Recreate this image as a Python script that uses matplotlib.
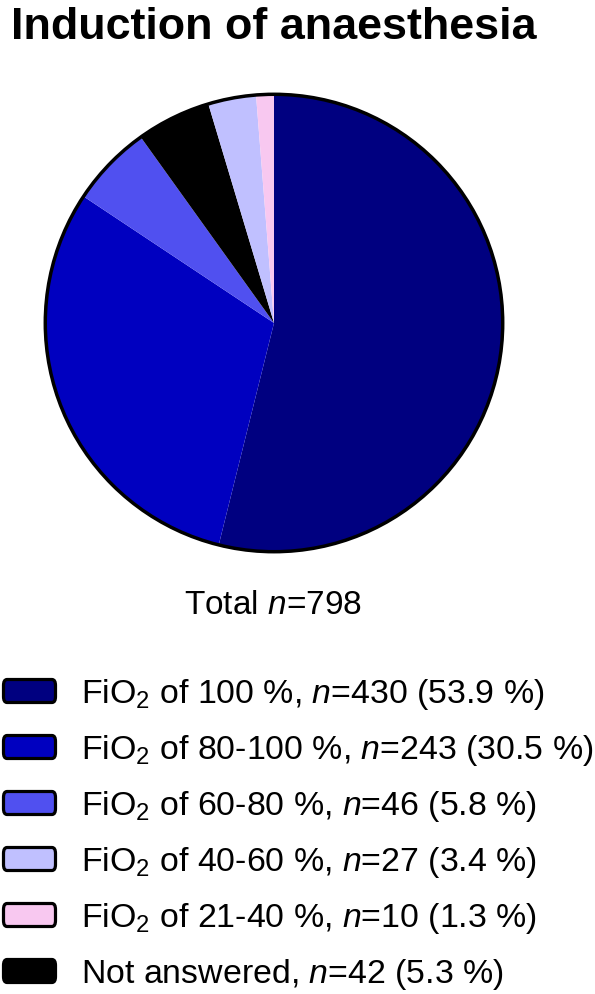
import matplotlib
matplotlib.use("Agg")
import matplotlib.pyplot as plt
from matplotlib.patches import FancyBboxPatch, Circle

plt.rcParams['font.family'] = ['Liberation Sans', 'DejaVu Sans']
plt.rcParams['mathtext.fontset'] = 'custom'
plt.rcParams['mathtext.rm'] = 'Liberation Sans'
plt.rcParams['mathtext.it'] = 'Liberation Sans:italic'

title = "Induction of anaesthesia"
categories = ["100", "80-100", "60-80", "40-60", "21-40", "Not answered"]
counts = [430, 243, 46, 27, 10, 42]
colors = ["#000080", "#0000C0", "#5050F0", "#C0C0FF", "#F8C8F0", "#000000"]
pie_order = [0, 1, 2, 5, 3, 4]  # clockwise from top
total = sum(counts)

W, H = 595, 994
fig = plt.figure(figsize=(W / 100, H / 100), dpi=100)

# title
fig.text(11 / W, 1 - 39 / H, title, fontsize=32.3, fontweight='bold', ha='left', va='baseline')

# pie
cx, cy, r = 274, 323, 231
ax = fig.add_axes([(cx - r) / W, 1 - (cy + r) / H, 2 * r / W, 2 * r / H])
ax.pie([counts[i] for i in pie_order], colors=[colors[i] for i in pie_order],
       startangle=90, counterclock=False, radius=1,
       wedgeprops=dict(linewidth=0))
ax.add_patch(Circle((0, 0), 1, fill=False, edgecolor='black', linewidth=2.5))
ax.set_xlim(-1.01, 1.01)
ax.set_ylim(-1.01, 1.01)
ax.set_aspect('equal')
ax.axis('off')

fig.text(273 / W, 1 - 605 / H, r"Total $\it{n}$=" + str(total), fontsize=24,
         ha='center', va='center')

# legend
row_y = [691, 747, 803, 859, 915, 971]
for k, (cat, n, col) in enumerate(zip(categories, counts, colors)):
    y = row_y[k]
    box = FancyBboxPatch((3.5 / W, 1 - (y + 11.5) / H), 52 / W, 23 / H,
                         boxstyle="round,pad=0,rounding_size=0.006",
                         transform=fig.transFigure, facecolor=col,
                         edgecolor='black', linewidth=2.3)
    fig.patches.append(box)
    pct = 100 * n / total
    if cat == "Not answered":
        label = r"Not answered, $\it{n}$=" + f"{n} ({pct:.1f} %)"
    else:
        label = r"FiO$_2$ of " + cat + r" %, $\it{n}$=" + f"{n} ({pct:.1f} %)"
    fig.text(81 / W, 1 - (y - 1) / H, label, fontsize=24.4, ha='left', va='center_baseline')

fig.savefig("out.png", dpi=100)
